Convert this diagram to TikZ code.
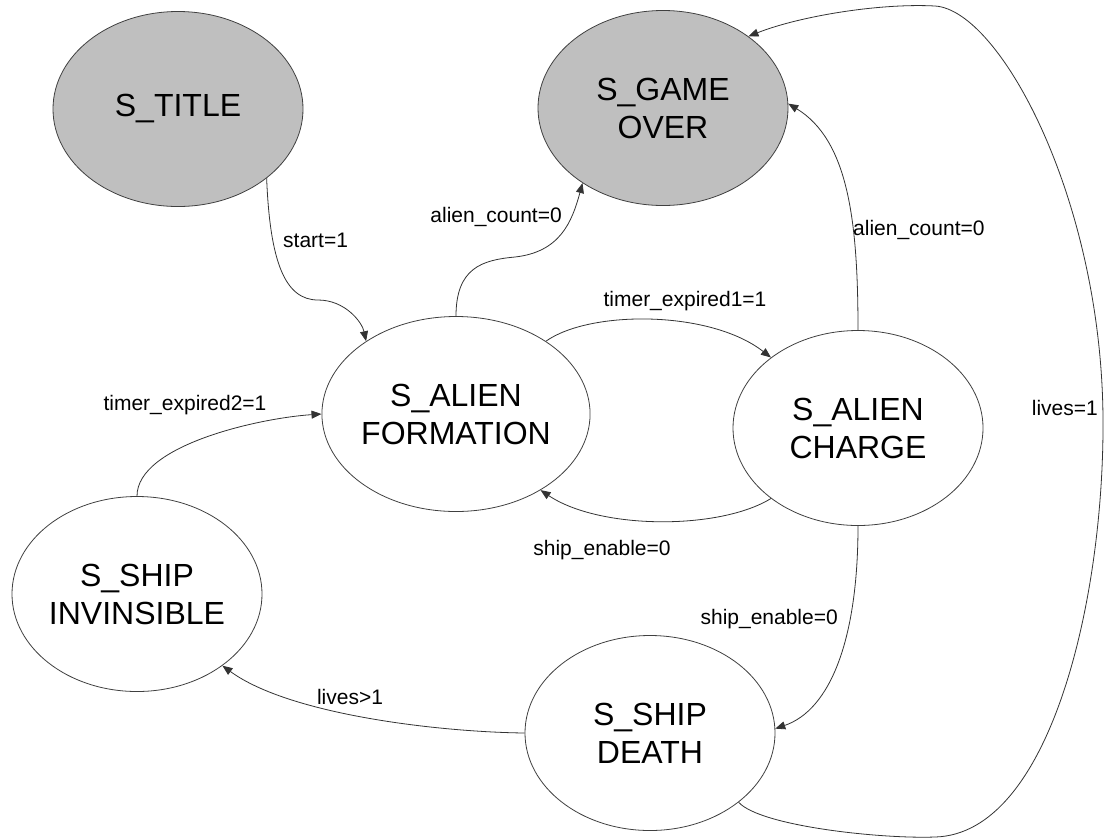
\documentclass[tikz,border=0pt]{standalone}
\usepackage{fontspec}
\setmainfont{Liberation Sans}
\usetikzlibrary{shapes.geometric,arrows.meta}

\begin{document}
\begin{tikzpicture}[x=1pt,y=-1pt,
  state/.style={draw=black!75,line width=0.8pt,ellipse,minimum width=250pt,
    minimum height=195pt,inner sep=0pt,align=center,
    font=\fontsize{32}{38}\selectfont},
  final/.style={state,fill=black!25},
  lab/.style={font=\fontsize{21}{24}\selectfont,inner sep=0pt},
  trans/.style={draw=black!80,line width=0.8pt,-{Triangle[length=10pt,width=8pt]}}]
  \useasboundingbox (0,0) rectangle (1105,839);

  % states
  \node[final] (title) at (178,109) {S\_TITLE};
  \node[final] (gameover) at (663,108) {S\_GAME\\OVER};
  \node[state] (formation) at (456,414) {S\_ALIEN\\FORMATION};
  \node[state] (charge) at (858,428) {S\_ALIEN\\CHARGE};
  \node[state] (invis) at (137,594) {S\_SHIP\\INVINSIBLE};
  \node[state] (death) at (650,733) {S\_SHIP\\DEATH};

  % transition labels
  \node[lab,anchor=west] (t0) at (283,240) {start=1};
  \node[lab,anchor=east] (t1) at (562,217) {alien\_count=0};
  \node[lab] (t2) at (685,301) {timer\_expired1=1};
  \node[lab] (t3) at (602,550) {ship\_enable=0};
  \node[lab,anchor=west] (t4) at (853,230) {alien\_count=0};
  \node[lab,anchor=east] (t5) at (1098,408) {lives=1};
  \node[lab,anchor=east] (t6) at (838,619) {ship\_enable=0};
  \node[lab] (t7) at (350,697) {lives>1};
  \node[lab] (t8) at (185,405) {timer\_expired2=1};

  % transitions
  \draw[trans] (title.-38) .. controls (270,262) and (285,300) .. (318,300)
    .. controls (345,300) and (362,322) .. (formation.141);
  \draw[trans] (formation.90) .. controls (456,268) and (482,260) .. (515,257)
    .. controls (560,252) and (572,222) .. (gameover.-137);
  \draw[trans] (formation.39) .. controls (590,310) and (710,310) .. (charge.141);
  \draw[trans] (charge.-141) .. controls (720,530) and (600,530) .. (formation.-42);
  \draw[trans] (charge.90) .. controls (858,220) and (848,140) .. (gameover.2);
  \draw[trans] (charge.-90) .. controls (858,640) and (830,710) .. (death.2);
  \draw[trans] (death.180) .. controls (440,732) and (290,715) .. (invis.-40);
  \draw[trans] (invis.90) .. controls (137,445) and (260,418) .. (formation.180);
  \draw[trans] (death.-38) .. controls (760,826) and (880,839) .. (935,837)
    .. controls (1050,834) and (1104,600) .. (1103,420)
    .. controls (1102,200) and (1000,10) .. (935,6)
    .. controls (880,3) and (800,16) .. (gameover.40);
\end{tikzpicture}
\end{document}
